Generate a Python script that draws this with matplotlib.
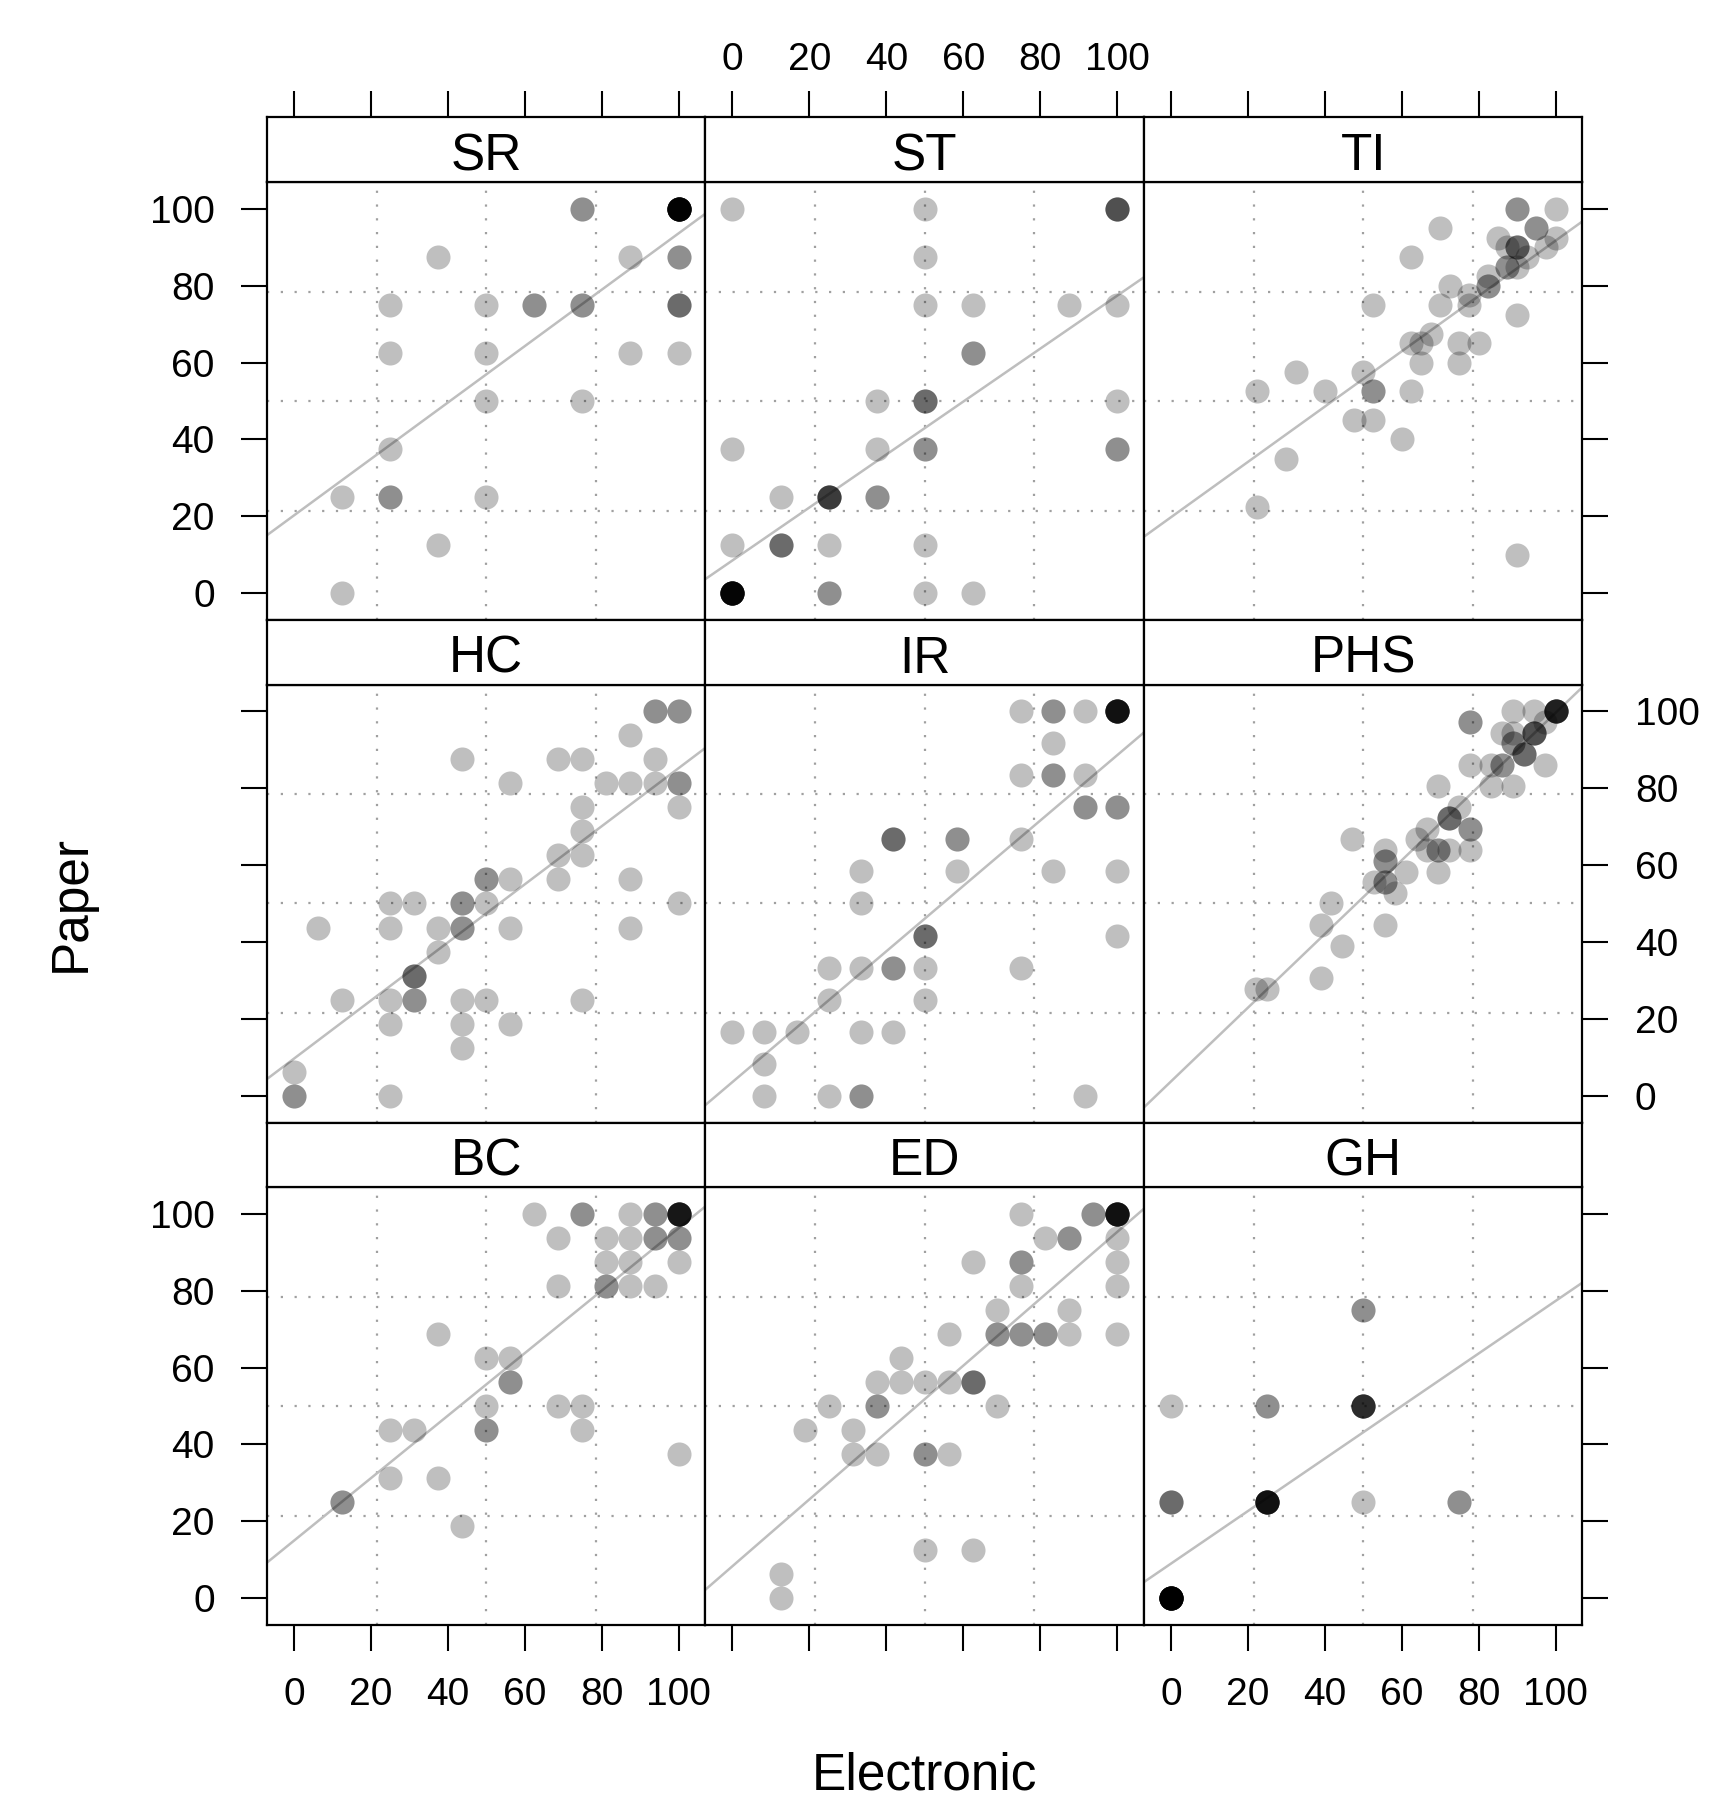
import numpy as np
import matplotlib
matplotlib.use("Agg")
import matplotlib.pyplot as plt

plt.rcParams['font.family'] = ['Liberation Sans', 'DejaVu Sans']

# panels in reading order (top row first)
panel_names = ["SR", "ST", "TI", "HC", "IR", "PHS", "BC", "ED", "GH"]

# each point: electronic score, paper score, number of identical responses
sr_x = [75, 100, 37.5, 87.5, 100, 25, 50, 62.5, 75, 100, 25, 50, 87.5, 100, 50, 75, 25, 12.5, 25, 50, 37.5, 12.5]
sr_y = [100, 100, 87.5, 87.5, 87.5, 75, 75, 75, 75, 75, 62.5, 62.5, 62.5, 62.5, 50, 50, 37.5, 25, 25, 25, 12.5, 0]
sr_n = [2, 14, 1, 1, 2, 1, 1, 2, 2, 3, 1, 1, 1, 1, 1, 1, 1, 1, 2, 1, 1, 1]

st_x = [0, 50, 100, 50, 50, 62.5, 87.5, 100, 62.5, 37.5, 50, 100, 0, 37.5, 50, 100, 12.5, 25, 37.5,
        0, 12.5, 25, 50, 0, 25, 50, 62.5]
st_y = [100, 100, 100, 87.5, 75, 75, 75, 75, 62.5, 50, 50, 50, 37.5, 37.5, 37.5, 37.5, 25, 25, 25,
        12.5, 12.5, 12.5, 12.5, 0, 0, 0, 0]
st_n = [1, 1, 4, 1, 1, 1, 1, 1, 2, 1, 3, 1, 1, 1, 2, 2, 1, 5, 2, 1, 3, 1, 1, 12, 2, 1, 1]

ti_x = [90, 100, 70, 95, 85, 100, 87.5, 90, 92.5, 97.5, 87.5, 90, 62.5, 82.5, 82.5, 72.5, 77.5, 77.5, 70, 52.5,
        90, 67.5, 62.5, 65, 75, 80, 65, 75, 32.5, 50, 22.5, 40, 52.5, 62.5, 47.5, 52.5, 60, 30, 22.5, 90]
ti_y = [100, 100, 95, 95, 92.5, 92.5, 90, 90, 87.5, 90, 85, 85, 87.5, 82.5, 80, 80, 77.5, 75, 75, 75,
        72.5, 67.5, 65, 65, 65, 65, 60, 60, 57.5, 57.5, 52.5, 52.5, 52.5, 52.5, 45, 45, 40, 35, 22.5, 10]
ti_n = [2, 1, 1, 2, 1, 1, 1, 3, 1, 1, 2, 1, 1, 1, 2, 1, 1, 1, 1, 1,
        1, 1, 1, 1, 1, 1, 1, 1, 1, 1, 1, 1, 2, 1, 1, 1, 1, 1, 1, 1]

hc_x = [93.75, 100, 87.5, 43.75, 68.75, 75, 93.75, 56.25, 81.25, 87.5, 93.75, 100, 75, 100, 75, 68.75, 75,
        50, 56.25, 68.75, 87.5, 25, 31.25, 43.75, 50, 100, 6.25, 25, 37.5, 43.75, 56.25, 87.5, 37.5, 31.25,
        12.5, 25, 31.25, 43.75, 50, 75, 25, 43.75, 56.25, 43.75, 0, 0, 25]
hc_y = [100, 100, 93.75, 87.5, 87.5, 87.5, 87.5, 81.25, 81.25, 81.25, 81.25, 81.25, 75, 75, 68.75, 62.5, 62.5,
        56.25, 56.25, 56.25, 56.25, 50, 50, 50, 50, 50, 43.75, 43.75, 43.75, 43.75, 43.75, 43.75, 37.5, 31.25,
        25, 25, 25, 25, 25, 25, 18.75, 18.75, 18.75, 12.5, 6.25, 0, 0]
hc_n = [2, 2, 1, 1, 1, 1, 1, 1, 1, 1, 1, 2, 1, 1, 1, 1, 1, 2, 1, 1, 1, 1, 1, 2, 1, 1,
        1, 1, 1, 2, 1, 1, 1, 3, 1, 1, 2, 1, 1, 1, 1, 1, 1, 1, 1, 2, 1]

ir_x = [75, 83.33, 91.67, 100, 83.33, 75, 83.33, 91.67, 91.67, 100, 41.67, 58.33, 75, 33.33, 58.33, 83.33, 100,
        33.33, 50, 100, 25, 33.33, 41.67, 50, 75, 25, 50, 0, 8.33, 16.67, 33.33, 41.67, 8.33, 8.33, 25, 33.33, 91.67]
ir_y = [100, 100, 100, 100, 91.67, 83.33, 83.33, 83.33, 75, 75, 66.67, 66.67, 66.67, 58.33, 58.33, 58.33, 58.33,
        50, 41.67, 41.67, 33.33, 33.33, 33.33, 33.33, 33.33, 25, 25, 16.67, 16.67, 16.67, 16.67, 16.67, 8.33,
        0, 0, 0, 0]
ir_n = [1, 2, 1, 9, 1, 1, 2, 1, 2, 2, 3, 2, 1, 1, 1, 1, 1, 1, 3, 1, 1, 1, 2, 1, 1, 1, 1,
        1, 1, 1, 1, 1, 1, 1, 1, 2, 1]

phs_x = [100, 88.9, 94.4, 77.8, 97.2, 86.1, 88.9, 94.4, 88.9, 91.7, 77.8, 83.3, 86.1, 97.2, 83.3, 88.9, 69.4,
         75, 72.2, 66.7, 77.8, 63.9, 47.2, 55.6, 66.7, 69.4, 72.2, 77.8, 55.6, 61.1, 69.4, 52.8, 55.6, 58.3,
         41.7, 38.9, 55.6, 44.4, 38.9, 22.2, 25]
phs_y = [100, 100, 100, 97.2, 97.2, 94.4, 94.4, 94.4, 91.7, 88.9, 86.1, 86.1, 86.1, 86.1, 80.6, 80.6, 80.6,
         75, 72.2, 69.4, 69.4, 66.7, 66.7, 63.9, 63.9, 63.9, 63.9, 63.9, 61.1, 58.3, 58.3, 55.6, 55.6, 52.8,
         50, 44.4, 44.4, 38.9, 30.6, 27.8, 27.8]
phs_n = [7, 1, 1, 2, 1, 1, 1, 4, 2, 3, 1, 1, 2, 1, 1, 1, 1, 1, 3, 1, 2, 1, 1, 1, 1, 2, 1, 1, 2, 1,
         1, 1, 2, 1, 1, 1, 1, 1, 1, 1, 1]

bc_x = [62.5, 75, 87.5, 93.75, 100, 68.75, 81.25, 87.5, 93.75, 100, 81.25, 87.5, 100, 68.75, 81.25, 87.5, 93.75,
        37.5, 50, 56.25, 56.25, 50, 68.75, 75, 25, 31.25, 50, 75, 100, 25, 37.5, 12.5, 43.75]
bc_y = [100, 100, 100, 100, 100, 93.75, 93.75, 93.75, 93.75, 93.75, 87.5, 87.5, 87.5, 81.25, 81.25, 81.25, 81.25,
        68.75, 62.5, 62.5, 56.25, 50, 50, 50, 43.75, 43.75, 43.75, 43.75, 37.5, 31.25, 31.25, 25, 18.75]
bc_n = [1, 2, 1, 2, 8, 1, 1, 1, 2, 2, 1, 1, 1, 1, 2, 1, 1, 1, 1, 1, 2, 1, 1, 1, 1, 1, 2, 1, 1, 1, 1, 2, 1]

ed_x = [75, 93.75, 100, 81.25, 87.5, 100, 62.5, 75, 100, 75, 100, 68.75, 87.5, 56.25, 68.75, 75, 81.25, 87.5,
        100, 43.75, 37.5, 43.75, 50, 56.25, 62.5, 25, 37.5, 68.75, 18.75, 31.25, 31.25, 37.5, 50, 56.25, 50, 62.5,
        12.5, 12.5]
ed_y = [100, 100, 100, 93.75, 93.75, 93.75, 87.5, 87.5, 87.5, 81.25, 81.25, 75, 75, 68.75, 68.75, 68.75, 68.75,
        68.75, 68.75, 62.5, 56.25, 56.25, 56.25, 56.25, 56.25, 50, 50, 50, 43.75, 43.75, 37.5, 37.5, 37.5, 37.5,
        12.5, 12.5, 6.25, 0]
ed_n = [1, 2, 9, 1, 2, 1, 1, 2, 1, 1, 1, 1, 1, 1, 2, 2, 2, 1, 1, 1, 1, 1, 1, 1, 3, 1, 2, 1, 1, 1,
        1, 1, 2, 1, 1, 1, 1, 1]

gh_x = [50, 0, 25, 50, 0, 25, 50, 75, 0]
gh_y = [75, 50, 50, 50, 25, 25, 25, 25, 0]
gh_n = [2, 1, 2, 6, 3, 9, 1, 2, 16]

panel_data = {
    "SR": (sr_x, sr_y, sr_n), "ST": (st_x, st_y, st_n), "TI": (ti_x, ti_y, ti_n),
    "HC": (hc_x, hc_y, hc_n), "IR": (ir_x, ir_y, ir_n), "PHS": (phs_x, phs_y, phs_n),
    "BC": (bc_x, bc_y, bc_n), "ED": (ed_x, ed_y, ed_n), "GH": (gh_x, gh_y, gh_n),
}

tick_values = [0, 20, 40, 60, 80, 100]

W, H = 1733, 1804
fig = plt.figure(figsize=(W / 100, H / 100), dpi=100)


def box(x0, y0, x1, y1):
    # pixel box (top-left origin) -> figure fraction
    return [x0 / W, 1 - y1 / H, (x1 - x0) / W, (y1 - y0) / H]


col_edges = [267, 705.5, 1144, 1582.5]
strip_tops = [117.5, 620, 1122.5]
strip_h = 64.5
panel_h = 438
lims = (-7, 107)
grid_at = [lims[0] + (lims[1] - lims[0]) * k / 4 for k in (1, 2, 3)]
tick_kw = dict(length=18.7, width=1.5, labelsize=28, pad=19, direction='out', colors='black')
grid_kw = dict(color='#a0a0a0', lw=1.6, ls=(0, (1, 5.2)), zorder=1)

for i, name in enumerate(panel_names):
    row, col = divmod(i, 3)
    top = strip_tops[row]
    ax = fig.add_axes(box(col_edges[col], top + strip_h, col_edges[col + 1], top + strip_h + panel_h))
    strip = fig.add_axes(box(col_edges[col], top, col_edges[col + 1], top + strip_h))

    x, y, n = panel_data[name]
    xs = np.repeat(x, n)
    ys = np.repeat(y, n)

    for g in grid_at:
        ax.axvline(g, **grid_kw)
        ax.axhline(g, **grid_kw)

    slope, icept = np.polyfit(xs, ys, 1)
    line_x = np.array(lims)
    ax.plot(line_x, icept + slope * line_x, color='#bebebe', lw=1.8, zorder=2)

    ax.scatter(xs, ys, s=300, color='black', alpha=0.25, linewidths=0, zorder=3)

    ax.set_xlim(lims)
    ax.set_ylim(lims)
    ax.set_xticks(tick_values)
    ax.set_yticks(tick_values)
    ax.tick_params(**tick_kw)
    ax.tick_params(left=False, right=False, top=False, bottom=False,
                   labelleft=False, labelright=False, labeltop=False, labelbottom=False)
    if col == 0:
        ax.tick_params(axis='y', left=True, labelleft=(row != 1))
    if col == 2:
        ax.tick_params(axis='y', right=True, labelright=(row == 1))
    if row == 2:
        ax.tick_params(axis='x', bottom=True, labelbottom=(col != 1))

    strip.set_facecolor('white')
    strip.set_yticks([])
    if row == 0:
        strip.set_xlim(lims)
        strip.set_xticks(tick_values)
        strip.tick_params(axis='x', **tick_kw)
        strip.tick_params(axis='x', top=True, bottom=False, labeltop=(col == 1), labelbottom=False, pad=10)
    else:
        strip.set_xticks([])
    strip.text(0.5, 0.18, name, ha='center', va='baseline', fontsize=37, transform=strip.transAxes)

    for a in (ax, strip):
        for sp in a.spines.values():
            sp.set_linewidth(1.6)

fig.text(71 / W, 1 - 903 / H, "Paper", rotation=90, ha='center', va='center', fontsize=37)
fig.text(924.7 / W, 1 - 1790 / H, "Electronic", ha='center', va='baseline', fontsize=37)

fig.savefig("out.png", dpi=100)
